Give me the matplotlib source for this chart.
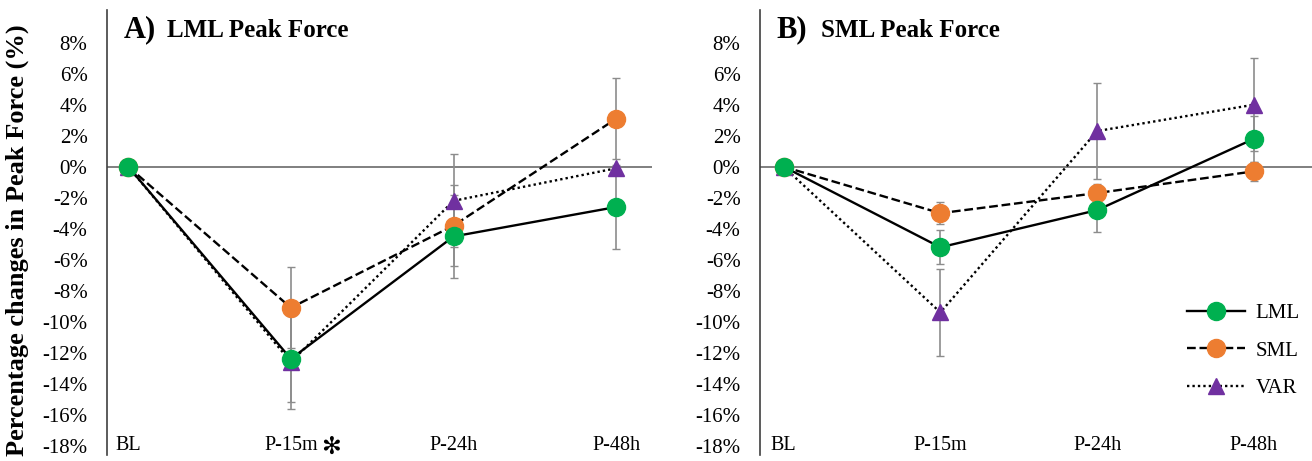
import matplotlib.pyplot as plt
from matplotlib.ticker import FuncFormatter

##-Data
phases = ['BL', 'P-15m', 'P-24h', 'P-48h']
yticks = [8, 6, 4, 2, 0, -2, -4, -6, -8, -10, -12, -14, -16, -18]

# A) LML peak force
a_lml = [0, -12.4, -4.5, -2.6]
a_sml = [0, -9.1, -3.8, 3.1]
a_var = [0, -12.6, -2.2, -0.1]
a_lml_err = [0, 2.8, 2.7, 2.7]
a_sml_err = [0, 2.6, 2.6, 2.6]
a_var_err = [0, 3.0, 3.0, 0.0]

# B) SML peak force
b_lml = [0, -5.2, -2.8, 1.8]
b_sml = [0, -3.0, -1.7, -0.3]
b_var = [0, -9.4, 2.3, 4.0]
b_lml_err = [0, 1.1, 1.4, 1.5]
b_sml_err = [0, 0.7, 0.6, 0.6]
b_var_err = [0, 2.8, 3.1, 3.0]

green = '#00b050'
orange = '#ed7d31'
purple = '#7030a0'
serif = ['Liberation Serif', 'DejaVu Serif']

plt.rcParams['font.family'] = serif


##-Plot
def plot_panel(ax, series, letter, title, xlim, star=False):
    x = list(range(len(phases)))
    styles = [('LML', green, '-', 'o'), ('SML', orange, '--', 'o'), ('VAR', purple, (0, (1, 1.3)), '^')]
    # error bars first, under markers
    for (vals, err), (lb, c, ls, m) in zip(series, styles):
        ax.errorbar(x, vals, yerr=err, fmt='none', ecolor='#8c8c8c', elinewidth=1.2,
                    capsize=3, capthick=1.0, zorder=2)
    # LML drawn last so it sits on top
    for k in [2, 1, 0]:
        vals, err = series[k]
        lb, c, ls, m = styles[k]
        ax.plot(x, vals, color='black', ls=ls, lw=1.7, marker=m, markersize=13 if m == 'o' else 12,
                markerfacecolor=c, markeredgecolor=c, label=lb, zorder=3 + (2 - k))

    ax.axhline(0, color='#7f7f7f', lw=1.4, zorder=1)
    ax.set_ylim(-18.6, 10.1)
    ax.set_xlim(*xlim)
    ax.set_yticks(yticks)
    ax.yaxis.set_major_formatter(FuncFormatter(lambda v, p: f'{v:.0f}%'))
    ax.tick_params(axis='y', length=0, pad=14, labelsize=15)
    ax.set_xticks([])
    for s in ['top', 'right', 'bottom']:
        ax.spines[s].set_visible(False)
    ax.spines['left'].set_color('#404040')
    ax.spines['left'].set_linewidth(1.2)

    for i, ph in enumerate(phases):
        ax.text(i, -18, ph, ha='center', va='center', fontsize=14.5)
    if star:
        ax.text(1.245, -18.1, '\u273b', ha='center', va='center', fontsize=17, fontweight='bold',
                family=['DejaVu Sans'])

    ax.text(0.03, 0.955, letter, transform=ax.transAxes, fontsize=22, fontweight='bold',
            va='center', ha='left')
    ax.text(0.11, 0.955, title, transform=ax.transAxes, fontsize=18, fontweight='bold',
            va='center', ha='left')

    h, l = ax.get_legend_handles_labels()
    return h[::-1], l[::-1]


fig = plt.figure(figsize=(13.12, 4.61), dpi=100)
ax1 = fig.add_axes([0.0816, 0.013, 0.4154, 0.965])
ax2 = fig.add_axes([0.5793, 0.013, 0.4207, 0.965])

plot_panel(ax1, [(a_lml, a_lml_err), (a_sml, a_sml_err), (a_var, a_var_err)],
           'A)', 'LML Peak Force', (-0.13, 3.22), star=True)
h, l = plot_panel(ax2, [(b_lml, b_lml_err), (b_sml, b_sml_err), (b_var, b_var_err)],
                  'B)', 'SML Peak Force', (-0.15, 3.37))

fig.text(0.0135, 0.479, 'Percentage changes in Peak Force (%)', rotation=90, fontsize=19,
         fontweight='bold', ha='center', va='center')

ax2.legend(h, l, loc='lower right', bbox_to_anchor=(1.0, 0.1), frameon=False, fontsize=15,
           handlelength=2.8, handletextpad=0.5, labelspacing=0.85, borderaxespad=0.2)

fig.savefig('out.png', dpi=100)
